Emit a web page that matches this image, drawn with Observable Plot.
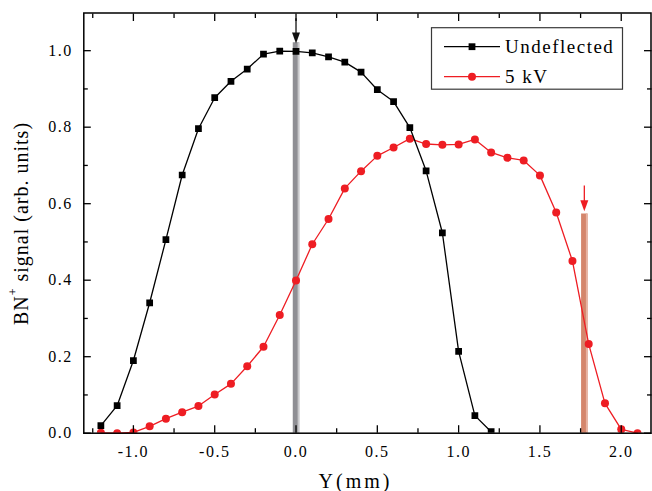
<!DOCTYPE html>
<html><head><meta charset="utf-8">
<script src="https://cdn.jsdelivr.net/npm/d3@7"></script>
<script src="https://cdn.jsdelivr.net/npm/@observablehq/plot@0.6"></script>
<style>
body{margin:0;background:#fff;}
#chart svg, #chart svg text{font-family:"Liberation Serif","Times New Roman",serif !important;}
#chart svg text{letter-spacing:1.5px;}
</style></head><body><div id="chart"></div>
<script>
// Undeflected beam profile
const undefX = [-1.2,-1.1,-1.0,-0.9,-0.8,-0.7,-0.6,-0.5,-0.4,-0.3,-0.2,-0.1,0.0,0.1,0.2,0.3,0.4,0.5,0.6,0.7,0.8,0.9,1.0,1.1,1.2];
const undefY = [0.020,0.072,0.190,0.341,0.506,0.675,0.796,0.877,0.920,0.952,0.991,0.999,0.998,0.994,0.984,0.970,0.944,0.898,0.867,0.799,0.686,0.524,0.214,0.046,0.004];
// 5 kV deflected profile
const kvX = [-1.2,-1.1,-1.0,-0.9,-0.8,-0.7,-0.6,-0.5,-0.4,-0.3,-0.2,-0.1,0.0,0.1,0.2,0.3,0.4,0.5,0.6,0.7,0.8,0.9,1.0,1.1,1.2,1.3,1.4,1.5,1.6,1.7,1.8,1.9,2.0,2.1];
const kvY = [0.001,0.000,0.002,0.018,0.038,0.055,0.071,0.101,0.129,0.175,0.226,0.309,0.399,0.494,0.560,0.640,0.685,0.725,0.747,0.770,0.756,0.754,0.755,0.768,0.734,0.720,0.713,0.674,0.577,0.450,0.233,0.078,0.010,0.000];
// marker bars and arrows
const barX = [0.0, 1.773];
const barTop = [1.021, 0.573];
const barColor = ["#8f8f94", "#d4866c"];
const barEdge = ["#c8c8ca", "#e6b3a2"];
const arrowTip = [1.019, 0.580];
const arrowTail = [1.073, 0.636];
const arrowColor = ["#111111", "#ee1d23"];
// ticks
const xMajor = [-1.0,-0.5,0.0,0.5,1.0,1.5,2.0];
const xMinor = [-1.25,-0.75,-0.25,0.25,0.75,1.25,1.75];
const yMajor = [0.0,0.2,0.4,0.6,0.8,1.0];
const yMinor = [0.1,0.3,0.5,0.7,0.9];
const seriesNames = ["Undeflected", "5 kV"];
const red = "#ee1d23";

const undef = undefX.map((x,i)=>({x, y: undefY[i]}));
const kv = kvX.map((x,i)=>({x, y: kvY[i]}));
const bars = barX.map((x,i)=>({x, top: barTop[i], color: barColor[i], edge: barEdge[i], tip: arrowTip[i], tail: arrowTail[i], ac: arrowColor[i]}));

const fmt = d => d.toFixed(1);
const blank = () => "";

const chart = Plot.plot({
  width: 652, height: 491,
  marginLeft: 83.3, marginRight: 1.5, marginTop: 12.5, marginBottom: 58.3,
  x: {domain: [-1.305, 2.183]},
  y: {domain: [0, 1.0985]},
  style: {fontFamily: "'Liberation Serif', 'Times New Roman', serif", fontSize: "16px", background: "white", color: "black"},
  marks: [
    Plot.ruleX(bars, {x: "x", y1: 0, y2: "top", stroke: "color", strokeWidth: 6.5}),
    Plot.ruleX(bars, {x: "x", y1: 0, y2: "top", stroke: "edge", strokeWidth: 1.6, dx: 2.4}),
    Plot.ruleX(bars, {x: "x", y1: "tip", y2: "tail", stroke: "ac", strokeWidth: 1.3, dy: -4}),
    Plot.vector(bars, {x: "x", y: "tip", rotate: 180, length: 11, r: 4, shape: "spike", anchor: "end", fill: "ac", stroke: "none"}),
    Plot.line(kv, {x: "x", y: "y", stroke: red, strokeWidth: 1.3}),
    Plot.dot(kv, {x: "x", y: "y", r: 4, fill: red, stroke: "none", symbol: "circle", clip: true}),
    Plot.line(undef, {x: "x", y: "y", stroke: "black", strokeWidth: 1.3}),
    Plot.dot(undef, {x: "x", y: "y", r: 3.8, fill: "black", stroke: "none", symbol: "square", clip: true}),
    Plot.frame({stroke: "black", strokeWidth: 1.5}),
    Plot.axisX(xMajor, {anchor: "bottom", tickSize: -7.5, tickPadding: 19.5, tickFormat: fmt, label: null, fontSize: 16, strokeWidth: 1.3}),
    Plot.axisX(xMinor, {anchor: "bottom", tickSize: -4.5, tickFormat: blank, label: null, strokeWidth: 1.3}),
    Plot.axisX(xMajor, {anchor: "top", tickSize: -7.5, tickFormat: blank, label: null, strokeWidth: 1.3}),
    Plot.axisX(xMinor, {anchor: "top", tickSize: -4.5, tickFormat: blank, label: null, strokeWidth: 1.3}),
    Plot.axisY(yMajor, {anchor: "left", tickSize: -7.5, tickPadding: 18.5, tickFormat: fmt, label: null, fontSize: 16, strokeWidth: 1.3}),
    Plot.axisY(yMinor, {anchor: "left", tickSize: -4.5, tickFormat: blank, label: null, strokeWidth: 1.3}),
    Plot.axisY(yMajor, {anchor: "right", tickSize: -7.5, tickFormat: blank, label: null, strokeWidth: 1.3}),
    Plot.axisY(yMinor, {anchor: "right", tickSize: -4.5, tickFormat: blank, label: null, strokeWidth: 1.3})
  ]
});
document.getElementById("chart").appendChild(chart);

const svg = d3.select(chart);
// y-axis label with superscript
const yl = svg.append("text")
  .attr("transform", "translate(28,223.5) rotate(-90)")
  .attr("text-anchor", "middle")
  .style("font-size", "20px").style("letter-spacing", "1px").attr("fill", "black");
yl.append("tspan").text("BN");
yl.append("tspan").text("+").style("font-size", "12px").attr("dy", -11);
yl.append("tspan").text(" signal (arb. units)").attr("dy", 11);
// x-axis label
svg.append("text").attr("x", 355.5).attr("y", 488).attr("text-anchor", "middle")
  .style("font-size", "20px").style("letter-spacing", "3px").attr("fill", "black").text("Y(mm)");
// legend
const lg = svg.append("g");
lg.append("rect").attr("x", 431.5).attr("y", 27.7).attr("width", 191).attr("height", 61.5)
  .attr("fill", "white").attr("stroke", "#3a3a3a").attr("stroke-width", 1.2);
const items = [{name: seriesNames[0], color: "black", sym: "square", y: 46.7},
               {name: seriesNames[1], color: red, sym: "circle", y: 76.7}];
items.forEach(it => {
  lg.append("line").attr("x1", 444).attr("x2", 500).attr("y1", it.y).attr("y2", it.y)
    .attr("stroke", it.color).attr("stroke-width", 1.3);
  if (it.sym === "square") lg.append("rect").attr("x", 472 - 3.4).attr("y", it.y - 3.4).attr("width", 6.8).attr("height", 6.8).attr("fill", it.color);
  else lg.append("circle").attr("cx", 472).attr("cy", it.y).attr("r", 4).attr("fill", it.color);
  lg.append("text").attr("x", 505).attr("y", it.y + 6.6).attr("text-anchor", "start")
    .style("font-size", "19px").style("letter-spacing", "1.5px")
    .attr("fill", "black").text(it.name);
});
</script></body></html>
